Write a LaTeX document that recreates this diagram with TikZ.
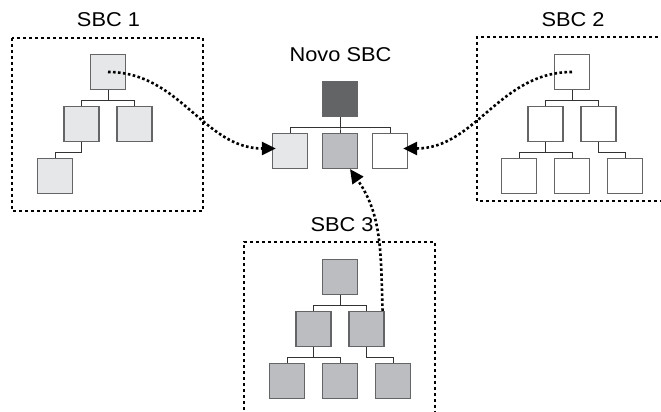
\documentclass[tikz,border=0pt]{standalone}
\usepackage{amsmath}
\usepackage{fontspec}
\setmainfont{Liberation Sans}[FakeStretch=1.09]
\usetikzlibrary{arrows.meta,calc}

\definecolor{leve}{HTML}{E6E7E8}
\definecolor{medio}{HTML}{BCBDC0}
\definecolor{escuro}{HTML}{636466}
\definecolor{borda}{HTML}{646567}

\begin{document}
\begin{tikzpicture}[x=1pt,y=1pt,
    caixa/.style={draw=borda,line width=1.2pt,minimum size=35pt,inner sep=0pt},
    ramo/.style={level distance=52pt,sibling distance=53pt,
                 edge from parent path={(\tikzparentnode.south) -- ++(0,-10pt) -| (\tikzchildnode.north)},
                 edge from parent/.style={draw=black!80,line width=0.8pt}},
    moldura/.style={draw=black,dash pattern=on 3pt off 3pt,line width=1.1pt},
    fluxo/.style={line width=2.6pt,dash pattern=on 2.6pt off 2.4pt,-{Triangle[length=14pt,width=13pt]}},
    rotulo/.style={font=\fontsize{20}{24}\selectfont,inner sep=0pt}]
    \useasboundingbox (0,0) rectangle (661,412);

    % molduras
    \draw[moldura] (12,374) rectangle (203,201);
    \draw[moldura] (670,375) -- (477,375) -- (477,211) -- (670,211);
    \draw[moldura] (244,-10) -- (244,170) -- (435,170) -- (435,-10);

    \node[rotulo] (t1) at (108.5,392) {SBC 1};
    \node[rotulo] (t2) at (573,392) {SBC 2};
    \node[rotulo] (t3) at (342,187) {SBC 3};
    \node[rotulo] (tn) at (340.5,357.5) {Novo SBC};

    % SBC 1
    \begin{scope}[ramo,every child node/.style={caixa,fill=leve}]
        \node[caixa,fill=leve] (s1r) at (108,340) {}
            child {node (s1a) {}
                child {node (s1c) {}}
                child[missing]}
            child {node (s1b) {}};
    \end{scope}

    % SBC 2
    \begin{scope}[ramo,every child node/.style={caixa,fill=white}]
        \node[caixa,fill=white] (s2r) at (572,340) {}
            child {node (s2a) {}
                child {node (s2c) {}}
                child {node (s2d) {}}}
            child {node (s2b) {}
                child[missing]
                child {node (s2e) {}}};
    \end{scope}

    % SBC 3
    \begin{scope}[ramo,every child node/.style={caixa,fill=medio}]
        \node[caixa,fill=medio] (s3r) at (340,135) {}
            child {node (s3a) {}
                child {node (s3c) {}}
                child {node (s3d) {}}}
            child {node (s3b) {}
                child[missing]
                child {node (s3e) {}}};
    \end{scope}

    % Novo SBC
    \begin{scope}[ramo,sibling distance=50pt]
        \node[caixa,fill=escuro] (nr) at (340,313) {}
            child {node[caixa,fill=leve] (n1) {}}
            child {node[caixa,fill=medio] (n2) {}}
            child {node[caixa,fill=white] (n3) {}};
    \end{scope}

    % reuso
    \draw[fluxo] (s1r.center) to[out=0,in=180] ($(n1.west)+(4pt,2.5pt)$);
    \draw[fluxo] (s2r.center) to[out=180,in=0] ($(n3.east)+(-5pt,2.5pt)$);
    \draw[fluxo] ($(s3b.north east)+(-2pt,0)$) to[out=92,in=-55] ($(n2.south)+(10pt,0)$);
\end{tikzpicture}
\end{document}
